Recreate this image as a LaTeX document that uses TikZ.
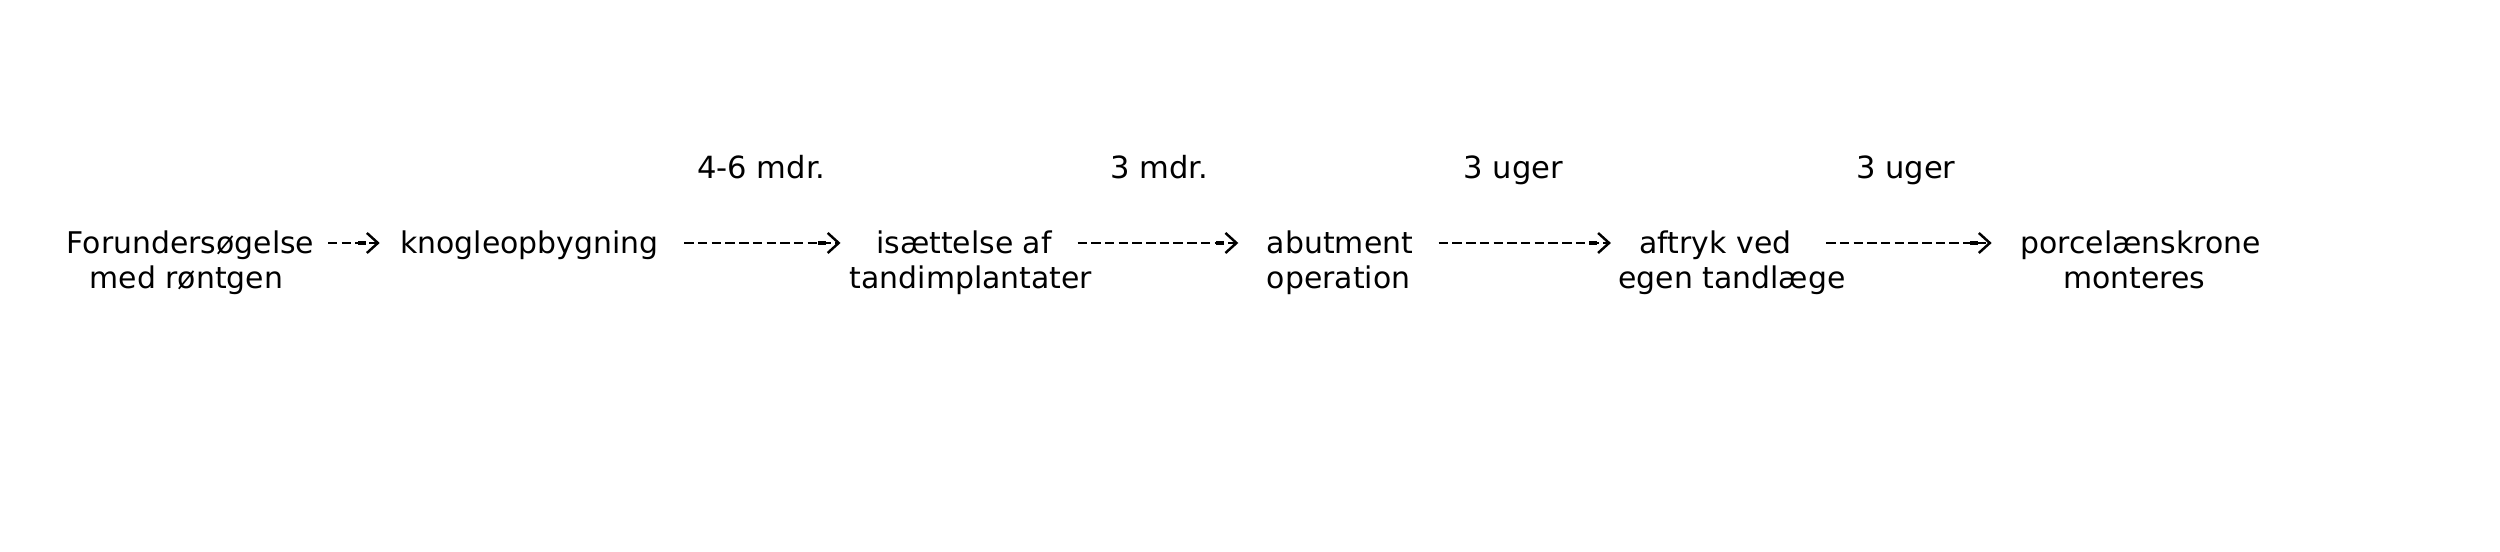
\documentclass[tikz,border=0pt]{standalone}
\usepackage{fontspec}
\setmainfont{DejaVu Sans}
\usetikzlibrary{arrows.meta,positioning}

\begin{document}
\begin{tikzpicture}[>={Rectangle[length=0.8mm,width=0.1pt,sep=0pt]Straight Barb[length=1.1mm,width=2mm]},
  stage/.style={inner xsep=0pt,inner ysep=0pt,anchor=base,font=\fontsize{8.5}{10}\selectfont,text height=2.8mm,text depth=0.6mm},
  dur/.style={inner sep=0pt,anchor=base,yshift=6.4mm,font=\fontsize{8.7}{10}\selectfont},
  flow/.style={->,line width=0.7pt,dash pattern=on 2.7pt off 1.2pt,shorten <=2.5mm,shorten >=2.8mm}]
\useasboundingbox[fill=white] (0,0) rectangle (25,5.52);
\node[stage] (forund) at (1.905,2.98) {Forundersøgelse};
\node[stage] (forund2) at (1.865,2.63) {med røntgen};
\node[stage] (knogle) at (5.295,2.98) {knogleopbygning};
\node[stage] (isaet) at (9.64,2.98) {isættelse af};
\node[stage] (isaet2) at (9.71,2.63) {tandimplantater};
\node[stage] (abut) at (13.40,2.98) {abutment};
\node[stage] (abut2) at (13.385,2.63) {operation};
\node[stage] (aftryk) at (17.155,2.98) {aftryk ved};
\node[stage] (aftryk2) at (17.32,2.63) {egen tandlæge};
\node[stage] (porc) at (21.405,2.98) {porcelænskrone};
\node[stage] (porc2) at (21.34,2.63) {monteres};
\draw[flow,shorten <=1.3mm,shorten >=2mm] (forund)--(knogle);
\draw[flow,shorten >=3.5mm] (knogle)--node[dur,xshift=-0.6mm] (wait1) {4-6 mdr.} (isaet);
\draw[flow] (isaet)--node[dur] (wait2) {3 mdr.} (abut);
\draw[flow] (abut)--node[dur,xshift=-1.3mm] (wait3) {3 uger} (aftryk);
\draw[flow,shorten <=3.4mm] (aftryk)--node[dur] (wait4) {3 uger} (porc);
\end{tikzpicture}
\end{document}
